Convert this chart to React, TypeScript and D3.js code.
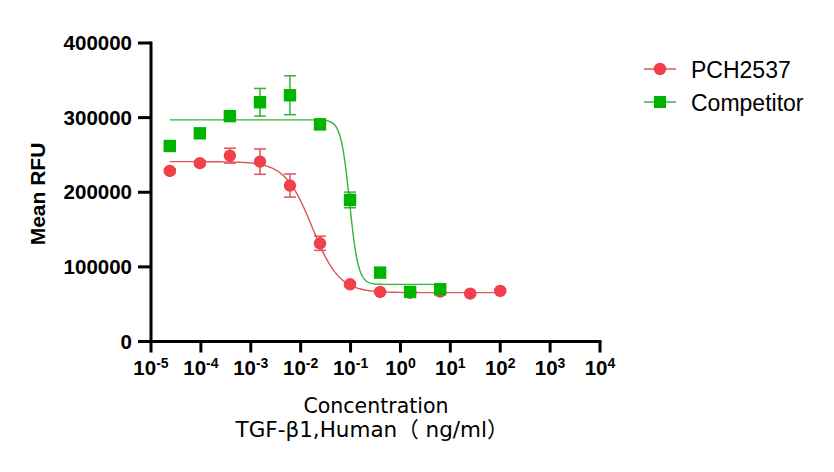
import React from "react";
import * as d3 from "d3";

// ---- data ----
const concRed = [2.38e-5, 9.54e-5, 3.81e-4, 1.53e-3, 6.1e-3, 0.0244, 0.0977, 0.391, 1.5625, 6.25, 25, 100];
const meanRed = [228500, 239000, 249000, 241000, 209000, 131600, 76700, 66400, 65400, 66800, 64100, 67700];
const errRed = [3000, 3000, 10000, 17000, 15500, 9500, 3000, 2000, 2000, 2000, 2000, 2000];

const concGreen = [2.38e-5, 9.54e-5, 3.81e-4, 1.53e-3, 6.1e-3, 0.0244, 0.0977, 0.391, 1.5625, 6.25];
const meanGreen = [262000, 279000, 302000, 320600, 330000, 291000, 189700, 92300, 66400, 70000];
const errGreen = [3000, 3000, 3000, 18500, 26000, 7000, 10500, 3000, 3000, 3000];

// 4PL fit parameters
const fitRed = { top: 241000, bottom: 65500, logEC50: -1.77, hill: 1.6 };
const fitGreen = { top: 297000, bottom: 76500, logEC50: -1.02, hill: 5 };

const yTicks = [0, 100000, 200000, 300000, 400000];
const xTickExps = [-5, -4, -3, -2, -1, 0, 1, 2, 3, 4];
const seriesNames = ["PCH2537", "Competitor"];

const RED = "#F0404A";
const RED_LINE = "#E0535C";
const GREEN = "#00B400";
const GREEN_LINE = "#33B533";

const x = d3.scaleLog().domain([1e-5, 1e4]).range([151, 600]);
const y = d3.scaleLinear().domain([0, 400000]).range([341.5, 43]);

function fourPL(p: typeof fitRed, logx: number) {
  return p.bottom + (p.top - p.bottom) / (1 + Math.pow(10, (logx - p.logEC50) * p.hill));
}

function curvePath(p: typeof fitRed, x0: number, x1: number) {
  const l0 = Math.log10(x0), l1 = Math.log10(x1);
  const pts = d3.range(0, 301).map((i) => {
    const l = l0 + ((l1 - l0) * i) / 300;
    return [x(Math.pow(10, l)), y(fourPL(p, l))] as [number, number];
  });
  return d3.line()(pts) || "";
}

function ErrorBars({ conc, mean, err, color }: { conc: number[]; mean: number[]; err: number[]; color: string }) {
  return (
    <g stroke={color} strokeWidth={1.5} fill="none">
      {conc.map((c, i) => {
        const cx = x(c);
        const yt = y(mean[i] + err[i]);
        const yb = y(mean[i] - err[i]);
        return (
          <g key={i}>
            <line x1={cx} x2={cx} y1={yt} y2={yb} />
            <line x1={cx - 6} x2={cx + 6} y1={yt} y2={yt} />
            <line x1={cx - 6} x2={cx + 6} y1={yb} y2={yb} />
          </g>
        );
      })}
    </g>
  );
}

export default function App() {
  const boldFont = "'Liberation Sans', Arial, sans-serif";
  const titleFont = "'DejaVu Sans', 'Noto Sans CJK SC', sans-serif";
  return (
    <div style={{ position: "absolute", left: 0, top: 0 }}>
      <svg width={834} height={472} viewBox="0 0 834 472" style={{ display: "block", background: "#fff" }}>
        {/* curves */}
        <path d={curvePath(fitRed, concRed[0], concRed[concRed.length - 1])} fill="none" stroke={RED_LINE} strokeWidth={1.4} />
        <path d={curvePath(fitGreen, concGreen[0], concGreen[concGreen.length - 1])} fill="none" stroke={GREEN_LINE} strokeWidth={1.4} />

        <ErrorBars conc={concRed} mean={meanRed} err={errRed} color={RED_LINE} />
        <ErrorBars conc={concGreen} mean={meanGreen} err={errGreen} color={GREEN_LINE} />

        {/* markers */}
        {concRed.map((c, i) => (
          <circle key={"r" + i} cx={x(c)} cy={y(meanRed[i])} r={6.2} fill={RED} />
        ))}
        {concGreen.map((c, i) => (
          <rect key={"g" + i} x={x(c) - 6.2} y={y(meanGreen[i]) - 6.2} width={12.4} height={12.4} fill={GREEN} />
        ))}

        {/* axes */}
        <g stroke="#000" strokeWidth={3} fill="none">
          <line x1={x(1e-5)} x2={x(1e-5)} y1={y(400000) - 1.5} y2={y(0) + 1.5} />
          <line x1={x(1e-5) - 1.5} x2={x(1e4) + 1.5} y1={y(0)} y2={y(0)} />
          {yTicks.map((t) => (
            <line key={t} x1={x(1e-5) - 13} x2={x(1e-5)} y1={y(t)} y2={y(t)} />
          ))}
          {xTickExps.map((e) => (
            <line key={e} x1={x(Math.pow(10, e))} x2={x(Math.pow(10, e))} y1={y(0)} y2={y(0) + 11} />
          ))}
        </g>
        <g fontFamily={boldFont} fontWeight="bold" fill="#000">
          {yTicks.map((t) => (
            <text key={t} x={x(1e-5) - 19} y={y(t) + 7} fontSize={20.5} textAnchor="end">
              {d3.format("d")(t)}
            </text>
          ))}
          {xTickExps.map((e) => (
            <text key={e} x={x(Math.pow(10, e))} y={375} fontSize={20.5} textAnchor="middle">
              10
              <tspan fontSize={14} dy={-7}>
                {e < 0 ? "-" + Math.abs(e) : String(e)}
              </tspan>
            </text>
          ))}
          <text transform="translate(45,194) rotate(-90)" fontSize={21} textAnchor="middle">
            Mean RFU
          </text>
        </g>
        <g fontFamily={titleFont} fill="#000" textAnchor="middle">
          <text x={376} y={413} fontSize={20.5}>Concentration</text>
          <text x={372} y={437} fontSize={21.5}>TGF-β1,Human（ ng/ml）</text>
        </g>

        {/* legend */}
        <g fontFamily={boldFont} fontSize={23} fill="#000">
          <line x1={644} x2={676} y1={69} y2={69} stroke={RED_LINE} strokeWidth={1.5} />
          <circle cx={660} cy={69} r={6.2} fill={RED} />
          <text x={691} y={78.3}>{seriesNames[0]}</text>
          <line x1={644} x2={676} y1={102} y2={102} stroke={GREEN_LINE} strokeWidth={1.5} />
          <rect x={654} y={96} width={12} height={12} fill={GREEN} />
          <text x={691} y={110.5}>{seriesNames[1]}</text>
        </g>
      </svg>
    </div>
  );
}
